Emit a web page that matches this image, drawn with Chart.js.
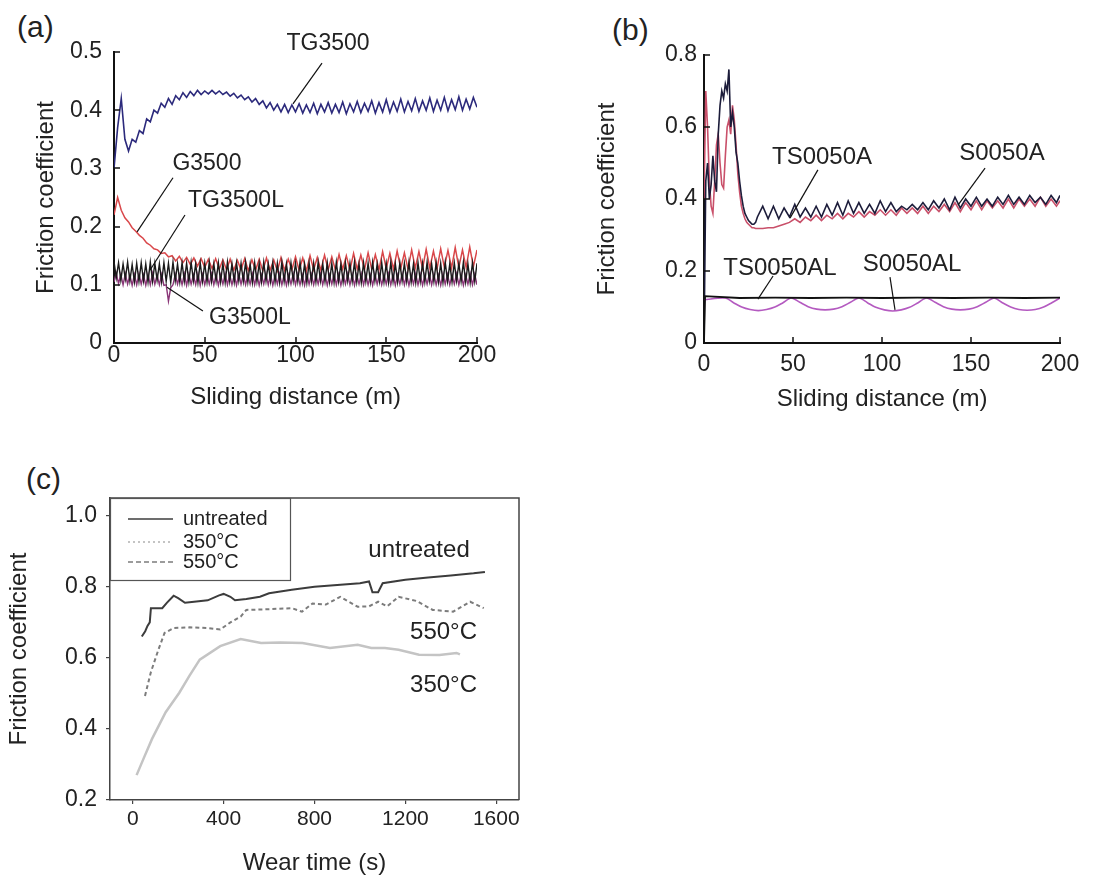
<!DOCTYPE html>
<html>
<head>
<meta charset="utf-8">
<script src="https://cdn.jsdelivr.net/npm/chart.js@4.4.1/dist/chart.umd.min.js"></script>
<style>
  body { margin: 0; background: #fff; width: 1096px; height: 880px; position: relative; overflow: hidden;
         font-family: "Liberation Sans", Arial, sans-serif; }
  canvas { position: absolute; }
  .tag { position: absolute; font-size: 30px; line-height: 1; color: #222; }
</style>
</head>
<body>
<div class="tag" style="left:17px;top:12px">(a)</div>
<div class="tag" style="left:612px;top:15px">(b)</div>
<div class="tag" style="left:26px;top:464px">(c)</div>
<canvas id="chartA" width="540" height="430" style="left:0;top:0"></canvas>
<canvas id="chartB" width="536" height="430" style="left:560px;top:0"></canvas>
<canvas id="chartC" width="540" height="440" style="left:0;top:440px"></canvas>
<script>
// evenly spaced sampling grid for the x values
function steps(from, to, step) {
  const out = [];
  for (let i = 0; from + i * step <= to + 1e-9; i++) out.push(+(from + i * step).toFixed(3));
  return out;
}

// ---- (a) sliding distance (m) vs friction coefficient ----
const distA = steps(0, 200, 2);
const distAfine = steps(0, 200, 1.25);
const tg3500 = [
  0.30, 0.37, 0.42, 0.35, 0.33, 0.35, 0.345, 0.365, 0.36, 0.385,
  0.38, 0.40, 0.395, 0.412, 0.405, 0.42, 0.41, 0.425, 0.418, 0.43,
  0.422, 0.432, 0.425, 0.434, 0.427, 0.433, 0.428, 0.434, 0.428, 0.433,
  0.427, 0.431, 0.424, 0.429, 0.421, 0.426, 0.418, 0.423, 0.414, 0.42,
  0.41, 0.416, 0.404, 0.413, 0.40, 0.41, 0.397, 0.41, 0.396, 0.409,
  0.397, 0.411, 0.395, 0.409, 0.396, 0.412, 0.394, 0.41, 0.397, 0.413,
  0.395, 0.41, 0.396, 0.414, 0.394, 0.411, 0.397, 0.415, 0.396, 0.412,
  0.398, 0.416, 0.395, 0.413, 0.397, 0.418, 0.396, 0.414, 0.398, 0.419,
  0.397, 0.415, 0.399, 0.42, 0.398, 0.416, 0.40, 0.421, 0.398, 0.417,
  0.40, 0.422, 0.399, 0.418, 0.401, 0.423, 0.40, 0.419, 0.402, 0.422,
  0.405
];
const g3500 = [
  0.22, 0.25, 0.228, 0.215, 0.208, 0.198, 0.192, 0.185, 0.18, 0.172,
  0.168, 0.162, 0.16, 0.154, 0.155, 0.148, 0.15, 0.141, 0.149, 0.138,
  0.147, 0.135, 0.146, 0.132, 0.145, 0.13, 0.144, 0.128, 0.145, 0.127,
  0.143, 0.126, 0.144, 0.125, 0.142, 0.126, 0.145, 0.124, 0.143, 0.125,
  0.144, 0.124, 0.146, 0.125, 0.143, 0.124, 0.147, 0.125, 0.144, 0.126,
  0.148, 0.125, 0.146, 0.124, 0.15, 0.126, 0.147, 0.125, 0.151, 0.126,
  0.148, 0.125, 0.152, 0.127, 0.15, 0.125, 0.154, 0.127, 0.151, 0.126,
  0.155, 0.127, 0.152, 0.126, 0.157, 0.128, 0.154, 0.127, 0.158, 0.128,
  0.155, 0.127, 0.16, 0.129, 0.157, 0.128, 0.161, 0.129, 0.158, 0.128,
  0.162, 0.13, 0.159, 0.129, 0.164, 0.13, 0.16, 0.13, 0.165, 0.131,
  0.16
];
const tg3500L = [
  0.14, 0.112, 0.138, 0.108, 0.136, 0.11, 0.139, 0.107, 0.135, 0.105,
  0.137, 0.106, 0.138, 0.107, 0.136, 0.105, 0.139, 0.106, 0.137, 0.108,
  0.136, 0.105, 0.138, 0.106, 0.137, 0.104, 0.139, 0.107, 0.136, 0.105,
  0.138, 0.106, 0.137, 0.105, 0.139, 0.107, 0.136, 0.104, 0.138, 0.106,
  0.137, 0.105, 0.139, 0.106, 0.136, 0.107, 0.138, 0.105, 0.137, 0.104,
  0.139, 0.106, 0.136, 0.105, 0.138, 0.107, 0.137, 0.106, 0.139, 0.105,
  0.136, 0.104, 0.138, 0.106, 0.137, 0.105, 0.139, 0.107, 0.136, 0.106,
  0.138, 0.105, 0.137, 0.104, 0.139, 0.106, 0.136, 0.105, 0.138, 0.107,
  0.137, 0.106, 0.139, 0.105, 0.136, 0.104, 0.138, 0.106, 0.137, 0.105,
  0.139, 0.107, 0.136, 0.106, 0.138, 0.105, 0.137, 0.104, 0.139, 0.106,
  0.136, 0.105, 0.138, 0.107, 0.137, 0.106, 0.139, 0.105, 0.136, 0.104,
  0.138, 0.106, 0.137, 0.105, 0.139, 0.107, 0.136, 0.106, 0.138, 0.105,
  0.137, 0.104, 0.139, 0.106, 0.136, 0.105, 0.138, 0.107, 0.137, 0.106,
  0.139, 0.105, 0.136, 0.104, 0.138, 0.106, 0.137, 0.105, 0.139, 0.107,
  0.136, 0.106, 0.138, 0.105, 0.137, 0.104, 0.139, 0.106, 0.136, 0.105,
  0.138, 0.107, 0.137, 0.106, 0.139, 0.105, 0.136, 0.104, 0.138, 0.106,
  0.137
];
const g3500L = [
  0.105, 0.12, 0.102, 0.118, 0.1, 0.119, 0.101, 0.117, 0.099, 0.118,
  0.1, 0.119, 0.101, 0.117, 0.099, 0.118, 0.1, 0.12, 0.101, 0.117,
  0.1, 0.118, 0.099, 0.1, 0.072, 0.095, 0.1, 0.118, 0.101, 0.117,
  0.1, 0.119, 0.099, 0.118, 0.101, 0.117, 0.1, 0.119, 0.099, 0.118,
  0.1, 0.117, 0.101, 0.119, 0.1, 0.118, 0.099, 0.117, 0.101, 0.119,
  0.1, 0.118, 0.1, 0.117, 0.099, 0.119, 0.101, 0.118, 0.1, 0.117,
  0.101, 0.119, 0.1, 0.118, 0.099, 0.117, 0.101, 0.119, 0.1, 0.118,
  0.099, 0.117, 0.101, 0.119, 0.1, 0.118, 0.099, 0.117, 0.101, 0.119,
  0.1, 0.118, 0.1, 0.117, 0.099, 0.119, 0.101, 0.118, 0.1, 0.117,
  0.101, 0.119, 0.1, 0.118, 0.099, 0.117, 0.101, 0.119, 0.1, 0.118,
  0.099, 0.117, 0.101, 0.119, 0.1, 0.118, 0.099, 0.117, 0.101, 0.119,
  0.1, 0.118, 0.1, 0.117, 0.099, 0.119, 0.101, 0.118, 0.1, 0.117,
  0.101, 0.119, 0.1, 0.118, 0.099, 0.117, 0.101, 0.119, 0.1, 0.118,
  0.099, 0.117, 0.101, 0.119, 0.1, 0.118, 0.099, 0.117, 0.101, 0.119,
  0.1, 0.118, 0.1, 0.117, 0.099, 0.119, 0.101, 0.118, 0.1, 0.117,
  0.101, 0.119, 0.1, 0.118, 0.099, 0.117, 0.101, 0.119, 0.1, 0.118,
  0.1
];
const xTicksA = [0, 50, 100, 150, 200];
const yTicksA = [0, 0.1, 0.2, 0.3, 0.4, 0.5];

// ---- (b) ----
const distB = steps(0, 30, 1).concat(steps(33, 198, 3), [200]);
const ts0050A = [
  0, 0.45, 0.5, 0.4, 0.44, 0.52, 0.45, 0.42, 0.58, 0.66,
  0.7, 0.68, 0.72, 0.7, 0.76, 0.6, 0.64, 0.6, 0.53, 0.5,
  0.45, 0.41, 0.38, 0.36, 0.35, 0.34, 0.335, 0.33, 0.33, 0.335,
  0.35,
  0.38, 0.345, 0.38, 0.345, 0.375, 0.35, 0.385, 0.35, 0.375, 0.35,
  0.38, 0.35, 0.385, 0.355, 0.39, 0.355, 0.395, 0.36, 0.39, 0.36,
  0.385, 0.36, 0.395, 0.365, 0.39, 0.365, 0.38, 0.37, 0.385, 0.37,
  0.39, 0.37, 0.395, 0.375, 0.4, 0.37, 0.405, 0.375, 0.4, 0.38,
  0.405, 0.38, 0.4, 0.38, 0.405, 0.385, 0.41, 0.385, 0.405, 0.385,
  0.41, 0.39, 0.405, 0.385, 0.41, 0.39,
  0.41
];
const s0050A = [
  0.4, 0.7, 0.6, 0.45, 0.38, 0.36, 0.45, 0.55, 0.58, 0.5,
  0.44, 0.43, 0.52, 0.6, 0.62, 0.58, 0.66, 0.62, 0.55, 0.47,
  0.42, 0.38, 0.36, 0.345, 0.335, 0.33, 0.325, 0.32, 0.32, 0.318,
  0.318,
  0.318, 0.32, 0.32, 0.325, 0.33, 0.335, 0.345, 0.335, 0.35, 0.34,
  0.355, 0.34, 0.355, 0.345, 0.36, 0.345, 0.36, 0.35, 0.365, 0.35,
  0.365, 0.355, 0.37, 0.355, 0.37, 0.355, 0.375, 0.36, 0.375, 0.36,
  0.38, 0.36, 0.38, 0.365, 0.385, 0.365, 0.39, 0.365, 0.39, 0.37,
  0.395, 0.37, 0.395, 0.375, 0.395, 0.375, 0.4, 0.375, 0.4, 0.38,
  0.4, 0.38, 0.405, 0.38, 0.4, 0.38,
  0.395
];
const distBflat = [0, 0.6, 20, 40, 60, 80, 100, 120, 140, 160, 180, 200];
const ts0050AL = [0, 0.13, 0.125, 0.126, 0.125, 0.126, 0.125, 0.126, 0.125, 0.126, 0.125, 0.126];
const distBarc = [
  0, 12, 16.6, 21.2, 25.9, 30.5, 35.1, 39.8, 44.4, 49,
  53.8, 58.5, 63.3, 68, 72.8, 77.5, 82.3, 87,
  91.8, 96.5, 101.3, 106, 110.8, 115.5, 120.3, 125,
  129.8, 134.5, 139.3, 144, 148.8, 153.5, 158.3, 163,
  167.6, 172.3, 176.9, 181.5, 186.1, 190.8, 195.4, 200
];
const s0050AL = [
  0.12, 0.125, 0.112, 0.1, 0.093, 0.09, 0.093, 0.1, 0.112, 0.125,
  0.113, 0.101, 0.094, 0.092, 0.094, 0.101, 0.113, 0.125,
  0.112, 0.099, 0.092, 0.089, 0.092, 0.099, 0.112, 0.125,
  0.113, 0.101, 0.094, 0.092, 0.094, 0.101, 0.113, 0.125,
  0.112, 0.1, 0.093, 0.091, 0.093, 0.1, 0.112, 0.125
];
const xTicksB = [0, 50, 100, 150, 200];
const yTicksB = [0, 0.2, 0.4, 0.6, 0.8];

// ---- (c) wear time (s) ----
const timeUntreated = [40, 55, 65, 75, 80, 130, 150, 180, 200, 230, 260, 330, 380, 400, 430, 450,
  500, 560, 600, 700, 800, 900, 1000, 1040, 1055, 1080, 1100, 1200, 1300, 1400, 1500, 1550];
const fricUntreated = [0.66, 0.675, 0.69, 0.70, 0.74, 0.74, 0.755, 0.775, 0.768, 0.755, 0.757, 0.762, 0.776, 0.78, 0.772, 0.762,
  0.766, 0.772, 0.782, 0.792, 0.80, 0.805, 0.81, 0.815, 0.785, 0.785, 0.81, 0.82, 0.826, 0.832, 0.838, 0.842];
const time550 = [54, 80, 113, 140, 180, 250, 325, 385, 430, 475, 500, 600, 700, 745, 791, 850, 913, 990,
  1040, 1080, 1120, 1170, 1250, 1320, 1410, 1485, 1545];
const fric550 = [0.493, 0.56, 0.623, 0.67, 0.684, 0.686, 0.684, 0.68, 0.70, 0.716, 0.735, 0.737, 0.74, 0.73, 0.753, 0.75, 0.772, 0.744,
  0.745, 0.758, 0.745, 0.772, 0.76, 0.735, 0.73, 0.758, 0.74];
const time350 = [17, 50, 85, 145, 205, 250, 295, 385, 475, 565, 650, 747, 868, 990, 1050, 1110, 1170, 1260, 1350, 1425, 1440];
const fric350 = [0.27, 0.32, 0.372, 0.447, 0.502, 0.55, 0.595, 0.633, 0.653, 0.642, 0.643, 0.642, 0.628, 0.637, 0.628, 0.628,
  0.623, 0.609, 0.608, 0.614, 0.61];
const xTicksC = [0, 400, 800, 1200, 1600];
const yTicksC = [0.2, 0.4, 0.6, 0.8, 1.0];
const legendOrderC = ['untreated', '350°C', '550°C'];

// labels with leader lines, placed in data units
const notesA = [
  { text: 'TG3500', at: [117.9, 0.514], lead: [[114.6, 0.481], [98.6, 0.411]] },
  { text: 'G3500', at: [51.2, 0.308], lead: [[32.5, 0.284], [12.7, 0.191]] },
  { text: 'TG3500L', at: [67.2, 0.244], lead: [[39.1, 0.220], [19.8, 0.125]] },
  { text: 'G3500L', at: [74.9, 0.043], lead: [[49, 0.055], [29.2, 0.096]] }
];
const notesB = [
  { text: 'TS0050A', at: [66.3, 0.517], lead: [[64.0, 0.481], [48.3, 0.347]] },
  { text: 'S0050A', at: [167.4, 0.528], lead: [[157.9, 0.486], [142.7, 0.383]] },
  { text: 'TS0050AL', at: [42.7, 0.208], lead: [[38.8, 0.186], [30.3, 0.122]] },
  { text: 'S0050AL', at: [116.9, 0.219], lead: [[104.5, 0.183], [107.3, 0.092]] }
];
const notesC = [
  { text: 'untreated', at: [1260, 0.902] },
  { text: '550°C', at: [1368, 0.672] },
  { text: '350°C', at: [1368, 0.523] }
];

const FONT = '"Liberation Sans", Arial, sans-serif';
const INK = '#222';

const pts = (xs, ys) => xs.map((x, i) => ({ x: x, y: ys[i] }));
const useTicks = list => scale => { scale.ticks = list.map(v => ({ value: v })); };

const inwardTicks = len => ({
  id: 'inwardTicks',
  afterDatasetsDraw(chart) {
    const { ctx, chartArea: a, scales: { x, y } } = chart;
    ctx.save();
    ctx.strokeStyle = '#111';
    ctx.lineWidth = 1.5;
    ctx.beginPath();
    x.ticks.forEach(t => {
      const p = Math.round(x.getPixelForValue(t.value));
      ctx.moveTo(p, a.bottom); ctx.lineTo(p, a.bottom - len);
    });
    y.ticks.forEach(t => {
      const p = Math.round(y.getPixelForValue(t.value));
      ctx.moveTo(a.left, p); ctx.lineTo(a.left + len, p);
    });
    ctx.stroke();
    ctx.restore();
  }
});

const notesPlugin = (notes, size) => ({
  id: 'notes',
  afterDraw(chart) {
    const { ctx, scales: { x, y } } = chart;
    ctx.save();
    ctx.fillStyle = INK;
    ctx.strokeStyle = '#111';
    ctx.lineWidth = 1.2;
    ctx.font = size + 'px ' + FONT;
    ctx.textAlign = 'center';
    ctx.textBaseline = 'middle';
    notes.forEach(n => {
      ctx.fillText(n.text, x.getPixelForValue(n.at[0]), y.getPixelForValue(n.at[1]));
      if (n.lead) {
        ctx.beginPath();
        ctx.moveTo(x.getPixelForValue(n.lead[0][0]), y.getPixelForValue(n.lead[0][1]));
        ctx.lineTo(x.getPixelForValue(n.lead[1][0]), y.getPixelForValue(n.lead[1][1]));
        ctx.stroke();
      }
    });
    ctx.restore();
  }
});

const boxLegend = {
  id: 'boxLegend',
  afterDraw(chart) {
    const { ctx, chartArea: a } = chart;
    ctx.save();
    ctx.strokeStyle = '#444';
    ctx.lineWidth = 1.5;
    ctx.beginPath();
    ctx.moveTo(a.left, a.top); ctx.lineTo(a.right, a.top); ctx.lineTo(a.right, a.bottom);
    ctx.stroke();
    ctx.lineWidth = 1.2;
    ctx.strokeStyle = '#555';
    ctx.strokeRect(a.left + 0.5, a.top + 0.5, 180, 82);
    ctx.font = '20px ' + FONT;
    ctx.fillStyle = INK;
    ctx.textBaseline = 'middle';
    const rows = [21, 44, 64];
    legendOrderC.forEach((label, i) => {
      const ds = chart.data.datasets.find(d => d.label === label);
      const yy = a.top + rows[i];
      ctx.beginPath();
      ctx.setLineDash(ds.legendDash);
      ctx.strokeStyle = ds.borderColor;
      ctx.lineWidth = ds.legendWidth;
      ctx.moveTo(a.left + 18, yy); ctx.lineTo(a.left + 63, yy);
      ctx.stroke();
      ctx.setLineDash([]);
      ctx.fillText(label, a.left + 73, yy);
    });
    ctx.restore();
  }
};

function makePanel(id, area, datasets, xs, ys, plugins) {
  const canvas = document.getElementById(id);
  const W = canvas.width, H = canvas.height;
  const axis = (o, fitFn) => ({
    type: 'linear',
    min: o.min, max: o.max,
    afterBuildTicks: useTicks(o.ticks),
    afterFit: fitFn,
    grid: o.grid,
    border: o.border,
    ticks: { color: INK, padding: o.pad, font: o.tickFont, callback: o.fmt },
    title: { display: true, text: o.title, color: INK, font: o.titleFont, padding: o.titlePad }
  });
  return new Chart(canvas, {
    type: 'line',
    data: { datasets: datasets },
    options: {
      responsive: false,
      animation: false,
      devicePixelRatio: 1,
      layout: { padding: { left: 0, top: area.top, right: W - area.right, bottom: 0 } },
      plugins: { legend: { display: false }, tooltip: { enabled: false } },
      elements: { point: { radius: 0 }, line: { tension: 0, borderWidth: 1.5 } },
      scales: {
        x: axis(xs, s => { s.height = H - area.bottom; }),
        y: axis(ys, s => { s.width = area.left; })
      }
    },
    plugins: plugins
  });
}

const plainGrid = { display: false, drawTicks: false };
const darkBorder = { display: true, color: '#111', width: 2 };
const tickFont = { family: FONT, size: 23, lineHeight: 1 };
const titleFont = { family: FONT, size: 24 };
const oneDec = v => (v === 0 ? '0' : v.toFixed(1));

// (a)
makePanel('chartA', { left: 114, top: 52, right: 477, bottom: 343 }, [
  { label: 'TG3500L', data: pts(distAfine, tg3500L), borderColor: '#1a1a1a', borderWidth: 1.4 },
  { label: 'G3500', data: pts(distA, g3500), borderColor: '#d9474a', borderWidth: 1.5 },
  { label: 'G3500L', data: pts(distAfine, g3500L), borderColor: '#8a3678', borderWidth: 1.4 },
  { label: 'TG3500', data: pts(distA, tg3500), borderColor: '#2c2a7c', borderWidth: 1.6 }
], {
  min: 0, max: 200, ticks: xTicksA, grid: plainGrid, border: darkBorder, pad: 1, tickFont: tickFont,
  title: 'Sliding distance (m)', titleFont: titleFont, titlePad: { top: 0, bottom: 18.6 }
}, {
  min: 0, max: 0.5, ticks: yTicksA, grid: plainGrid, border: darkBorder, pad: 12, tickFont: tickFont, fmt: oneDec,
  title: 'Friction coefficient', titleFont: titleFont, titlePad: { top: 31.6, bottom: 0 }
}, [inwardTicks(6), notesPlugin(notesA, 23)]);

// (b)
makePanel('chartB', { left: 144, top: 55, right: 500, bottom: 343 }, [
  { label: 'TS0050AL', data: pts(distBflat, ts0050AL), borderColor: '#111', borderWidth: 1.8 },
  { label: 'S0050AL', data: pts(distBarc, s0050AL), borderColor: '#b45ac0', borderWidth: 1.6, tension: 0.3 },
  { label: 'TS0050A', data: pts(distB, ts0050A), borderColor: '#1c1c3a', borderWidth: 1.6 },
  { label: 'S0050A', data: pts(distB, s0050A), borderColor: '#c9506a', borderWidth: 1.6 }
], {
  min: 0, max: 200, ticks: xTicksB, grid: plainGrid, border: darkBorder, pad: 10, tickFont: tickFont,
  title: 'Sliding distance (m)', titleFont: titleFont, titlePad: { top: 0, bottom: 16.6 }
}, {
  min: 0, max: 0.8, ticks: yTicksB, grid: plainGrid, border: darkBorder, pad: 7, tickFont: tickFont, fmt: oneDec,
  title: 'Friction coefficient', titleFont: titleFont, titlePad: { top: 32.6, bottom: 0 }
}, [inwardTicks(6), notesPlugin(notesB, 24)]);

// (c)
const boxGrid = { display: true, drawOnChartArea: false, drawTicks: true, tickLength: 4, color: '#444', lineWidth: 1.2 };
const grayBorder = { display: true, color: '#444', width: 1.5 };
makePanel('chartC', { left: 110, top: 58, right: 519, bottom: 360 }, [
  { label: 'untreated', data: pts(timeUntreated, fricUntreated), borderColor: '#3c3c3c', borderWidth: 2,
    legendDash: [], legendWidth: 1.5 },
  { label: '550°C', data: pts(time550, fric550), borderColor: '#7c7c7c', borderWidth: 2, borderDash: [4, 3],
    legendDash: [5, 3], legendWidth: 1.5 },
  { label: '350°C', data: pts(time350, fric350), borderColor: '#c4c4c4', borderWidth: 2.5,
    legendDash: [2, 3], legendWidth: 2 }
], {
  min: -100, max: 1700, ticks: xTicksC, grid: boxGrid, border: grayBorder, pad: 5,
  tickFont: { family: FONT, size: 21, lineHeight: 1 },
  title: 'Wear time (s)', titleFont: titleFont, titlePad: { top: 0, bottom: 2.6 }
}, {
  min: 0.2, max: 1.05, ticks: yTicksC, grid: boxGrid, border: grayBorder, pad: 9, tickFont: tickFont,
  fmt: v => v.toFixed(1),
  title: 'Friction coefficient', titleFont: titleFont, titlePad: { top: 4.6, bottom: 0 }
}, [boxLegend, notesPlugin(notesC, 24)]);
</script>
</body>
</html>
